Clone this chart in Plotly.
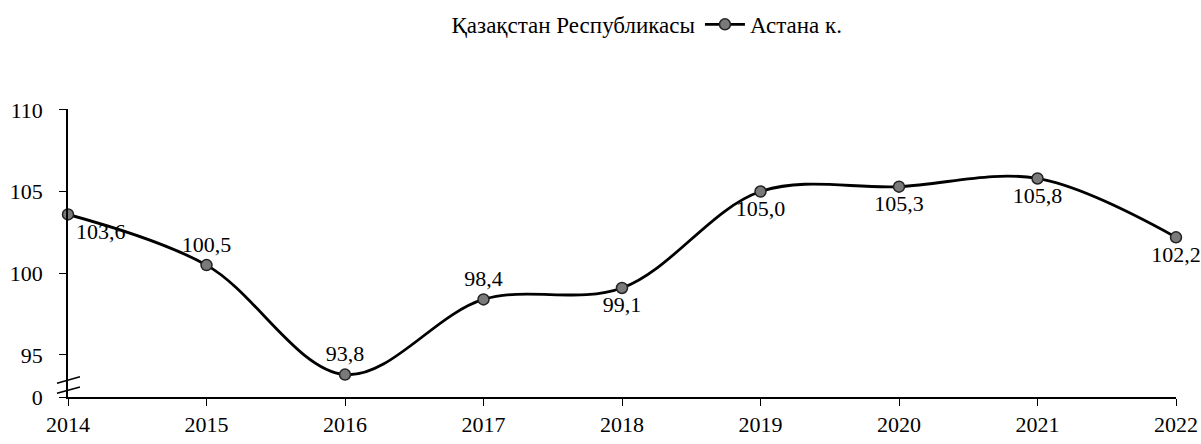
import plotly.graph_objects as go

years = [2014, 2015, 2016, 2017, 2018, 2019, 2020, 2021, 2022]
astana = [103.6, 100.5, 93.8, 98.4, 99.1, 105.0, 105.3, 105.8, 102.2]
label_pos = ["bottom right", "top center", "top center", "top center", "bottom center",
             "bottom center", "bottom center", "bottom center", "bottom center"]
y_tickvals = [92.43, 95, 100, 105, 110]
y_ticktext = ["0", "95", "100", "105", "110"]
series_names = ["Қазақстан Республикасы", "Астана к."]

labels = [f"{v:.1f}".replace(".", ",") for v in astana]

font_family = "Liberation Serif"

fig = go.Figure()
# Republic series: faint / not legible in source, legend entry only
fig.add_trace(go.Scatter(
    x=[None], y=[None], name=series_names[0], mode="lines",
    line=dict(color="rgba(0,0,0,0)", width=2),
))
fig.add_trace(go.Scatter(
    x=years, y=astana, name=series_names[1], mode="lines+markers+text",
    line=dict(color="black", width=2.8, shape="spline", smoothing=1.0),
    marker=dict(size=11, color="#7a7a7a", line=dict(color="#222", width=1.5)),
    text=labels, textposition=label_pos,
    textfont=dict(family=font_family, size=22, color="black"),
    cliponaxis=False,
))

fig.update_layout(
    width=1201, height=444,
    margin=dict(l=68, r=25, t=109, b=47, autoexpand=False),
    plot_bgcolor="white", paper_bgcolor="white",
    font=dict(family=font_family, size=22, color="black"),
    showlegend=True,
    legend=dict(orientation="h", xref="container", yref="container",
                x=0.52, xanchor="center", y=0.945, yanchor="middle",
                font=dict(family=font_family, size=23), itemwidth=40),
    xaxis=dict(range=[2014, 2022], tickvals=years, showgrid=False, zeroline=False,
               showline=True, linecolor="black", linewidth=1.5,
               ticks="outside", ticklen=7, tickcolor="black", automargin=False,
               tickfont=dict(family=font_family, size=22)),
    yaxis=dict(range=[92.43, 110.05], tickvals=y_tickvals, ticktext=y_ticktext,
               showgrid=False, zeroline=False,
               showline=True, linecolor="black", linewidth=1.5,
               ticks="outside", ticklen=7, tickcolor="black", automargin=False,
               ticklabelstandoff=12,
               tickfont=dict(family=font_family, size=22)),
)

# axis break marks
for yy in [0.059, 0.024]:
    fig.add_shape(type="line", xref="paper", yref="paper",
                  x0=-0.0099, x1=0.0108, y0=yy - 0.011, y1=yy + 0.011,
                  line=dict(color="black", width=1.5))

fig.write_html("out.html", config={"displayModeBar": False},
               post_script="document.body.style.margin='0';")
